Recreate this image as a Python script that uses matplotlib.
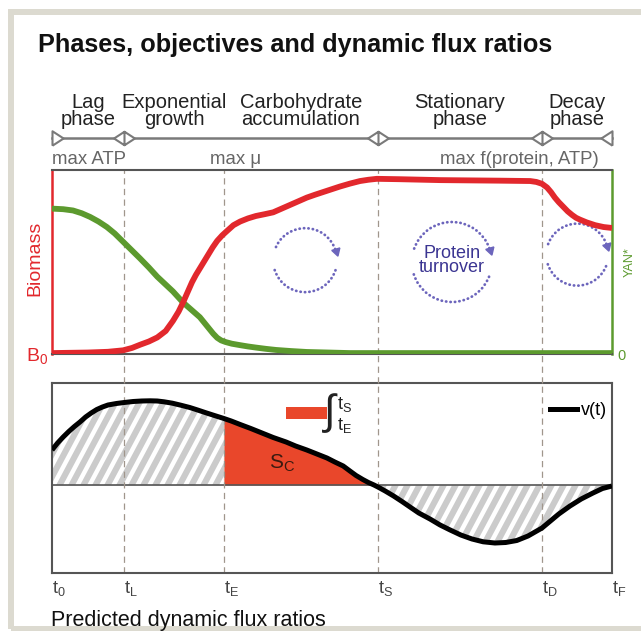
import numpy as np
import matplotlib

matplotlib.use("Agg")
import matplotlib.pyplot as plt
from matplotlib import transforms as mtransforms
from matplotlib.collections import LineCollection
from matplotlib.lines import Line2D
from matplotlib.patches import Arc, Rectangle
from matplotlib.path import Path

plt.rcParams["font.family"] = ["Liberation Sans", "DejaVu Sans"]
plt.rcParams["mathtext.fontset"] = "custom"
plt.rcParams["mathtext.rm"] = "Liberation Sans"
plt.rcParams["mathtext.it"] = "Liberation Sans:italic"

W, H = 641, 631

RED = "#e2282d"
GREEN = "#5c9a2e"
FILL_RED = "#e9472b"
HATCH_GREY = "#cbcbcb"
CYCLE_BLUE = "#6c65bc"
SPINE = "#555555"
BAR_GREY = "#7a7a7a"
DASH = "#a0968c"

# time axis runs t0 = 0 .. tF = 100
T_MARKS = [0, 12.9, 30.7, 58.2, 87.5, 100]
T_NAMES = ["0", "L", "E", "S", "D", "F"]
PHASE_NAMES = ["Lag\nphase", "Exponential\ngrowth", "Carbohydrate\naccumulation",
               "Stationary\nphase", "Decay\nphase"]
BAR_BREAKS = [12.9, 58.2, 87.5]
OBJECTIVES = ["max ATP", "max μ", "max f(protein, ATP)"]
OBJECTIVE_T = [0, 32.7, 97.7]
OBJECTIVE_HA = ["left", "center", "right"]

BIOMASS_T = [0, 6.4, 10, 12.7, 14.3, 15.7, 17.3, 18.8, 20.3, 21.6, 22.6, 23.4, 24.2, 25.0,
             25.7, 26.4, 27.2, 27.9, 28.7, 29.5, 30.4, 31.3, 32.4, 33.6, 35.0, 36.4, 38.0,
             39.5, 41.0, 42.5, 44.0, 45.5, 47.0, 48.4, 50.0, 51.4, 53.2, 55.0, 56.5, 58.0,
             62.0, 69.3, 80.0, 85.4, 86.5, 87.5, 88.4, 89.1, 89.8, 90.5, 91.3, 92.1, 92.9,
             93.6, 94.3, 95.5, 97.0, 98.5, 100]
BIOMASS = [0.005, 0.008, 0.012, 0.02, 0.033, 0.05, 0.068, 0.09, 0.125, 0.18, 0.23, 0.28,
           0.335, 0.39, 0.43, 0.465, 0.505, 0.54, 0.58, 0.615, 0.645, 0.67, 0.70, 0.72,
           0.737, 0.75, 0.76, 0.77, 0.79, 0.81, 0.83, 0.85, 0.866, 0.88, 0.896, 0.91,
           0.926, 0.94, 0.947, 0.952, 0.95, 0.945, 0.942, 0.94, 0.935, 0.925, 0.905, 0.88,
           0.85, 0.825, 0.80, 0.775, 0.755, 0.74, 0.73, 0.715, 0.70, 0.69, 0.685]

YAN_T = [0, 2, 3.75, 5.3, 6.8, 8.3, 9.8, 11.2, 12.7, 14.2, 15.7, 17.3, 18.8, 20.2, 21.6,
         22.5, 23.4, 24.9, 26.4, 27.6, 28.8, 29.5, 30.2, 31.0, 32.1, 33.6, 35.0, 36.4,
         38.2, 40.0, 42.7, 45.5, 49.4, 53.2, 100]
YAN = [0.79, 0.787, 0.78, 0.765, 0.745, 0.72, 0.69, 0.655, 0.61, 0.565, 0.52, 0.47, 0.42,
       0.38, 0.34, 0.31, 0.28, 0.24, 0.20, 0.155, 0.11, 0.088, 0.074, 0.065, 0.056, 0.048,
       0.041, 0.035, 0.028, 0.022, 0.016, 0.011, 0.008, 0.005, 0.005]

FLUX_T = [0, 1, 2, 3, 4, 5, 6, 7, 8, 9, 10, 11.5, 12.9, 14.5, 16, 17.5, 18.8, 20, 21.5,
          23, 24.6, 26, 27.5, 29, 30.7, 32, 33.6, 35.5, 37.5, 39.5, 41.8, 43.5, 45.5, 47.3,
          49.1, 50.5, 52, 53.2, 54.3, 55.5, 56.5, 57.5, 58.2, 59.5, 61, 62.5, 63.8, 65.5,
          67.5, 69.3, 71.1, 73, 75, 77, 79.1, 81, 83, 85, 87.5, 89, 90.5, 92.5, 94.5, 96.6,
          98.3, 100]
FLUX = [0.35, 0.42, 0.48, 0.535, 0.585, 0.63, 0.68, 0.72, 0.755, 0.78, 0.80, 0.815, 0.825,
        0.835, 0.84, 0.842, 0.84, 0.832, 0.818, 0.798, 0.775, 0.75, 0.722, 0.695, 0.665,
        0.64, 0.605, 0.565, 0.52, 0.475, 0.43, 0.39, 0.35, 0.31, 0.27, 0.23, 0.19, 0.14,
        0.095, 0.055, 0.025, 0.0, -0.02, -0.06, -0.11, -0.165, -0.215, -0.28, -0.34, -0.40,
        -0.45, -0.50, -0.54, -0.568, -0.58, -0.575, -0.555, -0.51, -0.43, -0.36, -0.29,
        -0.21, -0.14, -0.08, -0.035, -0.01]

# protein turnover cycles: centre (time, biomass fraction) and radius in px
CYCLE_T = [45.2, 71.4, 93.8]
CYCLE_Y = [0.51, 0.50, 0.54]
CYCLE_R = [32, 40, 31]


def fx(px):
    return px / W


def fy(py):
    return 1 - py / H


def tlabel(s):
    return r"$\mathregular{t_{%s}}$" % s


def draw_cycles(fig, ax):
    for cx, cy, r in zip(CYCLE_T, CYCLE_Y, CYCLE_R):
        tr = fig.dpi_scale_trans + mtransforms.ScaledTranslation(cx, cy, ax.transData)
        r_in = r / 100
        for th1, th2 in [(20, 162), (198, 342)]:
            ax.add_patch(Arc((0, 0), 2 * r_in, 2 * r_in, theta1=th1, theta2=th2,
                             transform=tr, color=CYCLE_BLUE, lw=2.0,
                             linestyle=(0, (0.1, 1.5)), capstyle="round"))
        a = np.radians(17)
        ax.plot([r_in * np.cos(a)], [r_in * np.sin(a)], transform=tr,
                marker=(3, 0, -163), ms=7, color=CYCLE_BLUE, clip_on=False)


def draw_top(fig, ax):
    ax.set_facecolor("none")
    ax.plot(YAN_T, YAN, color=GREEN, lw=4.2, zorder=3, solid_capstyle="butt")
    ax.plot(BIOMASS_T, BIOMASS, color=RED, lw=4.2, zorder=4, solid_capstyle="butt")
    for t in T_MARKS[1:-1]:
        ax.axvline(t, color=DASH, lw=0.9, dashes=(5, 3.5), zorder=2)

    ax.spines["left"].set_color(RED)
    ax.spines["right"].set_color(GREEN)
    for side in ["left", "right"]:
        ax.spines[side].set_linewidth(1.8)
    for side in ["top", "bottom"]:
        ax.spines[side].set_color(SPINE)
        ax.spines[side].set_linewidth(1.5)

    ax.set_xticks([])
    ax.set_yticks([0])
    ax.set_yticklabels([r"$\mathregular{B_0}$"], color=RED, fontsize=14)
    ax.tick_params(axis="y", length=0, pad=3)
    ax.set_ylabel("Biomass", color=RED, fontsize=14)
    ax.yaxis.set_label_coords(-0.015, 0.52)

    axr = ax.twinx()
    axr.set_ylim(0, 1)
    axr.set_yticks([0])
    axr.set_yticklabels(["0"], color=GREEN, fontsize=10.5)
    axr.tick_params(axis="y", length=0, pad=4)
    axr.set_ylabel("YAN*", color=GREEN, fontsize=9)
    axr.yaxis.set_label_coords(1.02, 0.5)
    for spine in axr.spines.values():
        spine.set_visible(False)

    draw_cycles(fig, ax)
    ax.text(71.4, 0.51, "Protein\nturnover", ha="center", va="center", fontsize=13,
            linespacing=0.75, color="#3b3592", zorder=5)

    ax.set_xlim(0, 100)
    ax.set_ylim(0, 1)


def draw_bottom(fig, ax):
    ax.set_facecolor("none")
    t = np.array(FLUX_T)
    v = np.array(FLUX)
    t_e, t_s = T_MARKS[2], T_MARKS[3]

    left = ax.fill_between(t, v, 0, where=t <= t_e, color=HATCH_GREY, lw=0, zorder=1)
    right = ax.fill_between(t, v, 0, where=t >= t_s, color=HATCH_GREY, lw=0, zorder=1)
    ax.fill_between(t, v, 0, where=(t >= t_e) & (t <= t_s), interpolate=True,
                    color=FILL_RED, lw=0, zorder=1)

    # white diagonal stripes over the grey areas
    ang = np.radians(62)
    segs = [[(c, 0), (c + 900 / np.tan(ang), 900)] for c in np.arange(-600, 700, 12)]
    stripes = LineCollection(segs, colors="white", linewidths=3.2,
                             transform=mtransforms.IdentityTransform(), zorder=1.5)
    ax.add_collection(stripes, autolim=False)
    clip = Path.make_compound_path(*left.get_paths(), *right.get_paths())
    stripes.set_clip_path(clip, ax.transData)

    ax.axhline(0, color=SPINE, lw=1.2, zorder=2)
    for tm in T_MARKS[1:-1]:
        ax.axvline(tm, color=DASH, lw=0.9, dashes=(5, 3.5), zorder=2)
    ax.plot(t, v, color="black", lw=3.6, zorder=4, solid_capstyle="butt")

    for spine in ax.spines.values():
        spine.set_color(SPINE)
        spine.set_linewidth(1.5)

    ax.set_yticks([])
    ax.set_xticks(T_MARKS)
    ax.set_xticklabels([tlabel(s) for s in T_NAMES], fontsize=13, color="#444444",
                       ha="left")
    shift = mtransforms.ScaledTranslation(-2 / 100, 0, fig.dpi_scale_trans)
    for lab in ax.get_xticklabels():
        lab.set_transform(lab.get_transform() + shift)
    ax.tick_params(axis="x", length=0, pad=4)

    handle = Line2D([], [], color="black", lw=3.6)
    ax.legend([handle], ["v(t)"], loc="center right", bbox_to_anchor=(0.991, 0.853),
              frameon=False, fontsize=13, handlelength=1.5, handletextpad=0.2,
              borderpad=0, borderaxespad=0)

    ax.add_patch(Rectangle((0.418, 0.81), 0.073, 0.063, transform=ax.transAxes,
                           color=FILL_RED, lw=0))
    ax.text(0.495, 0.842, "∫", transform=ax.transAxes, ha="center", va="center",
            fontsize=30, color="#222222", family=["Liberation Sans", "DejaVu Sans"])
    ax.text(0.509, 0.862, tlabel("S"), transform=ax.transAxes, ha="left",
            va="baseline", fontsize=13, color="#222222")
    ax.text(0.509, 0.752, tlabel("E"), transform=ax.transAxes, ha="left",
            va="baseline", fontsize=13, color="#222222")
    ax.text(41, 0.22, r"$\mathregular{S_C}$", ha="center", va="center", fontsize=15,
            color="#3a1a10", zorder=5)

    ax.set_xlim(0, 100)
    ax.set_ylim(-0.88, 1.02)


def draw_header(fig, ax):
    fig.text(fx(38), fy(52), "Phases, objectives and dynamic flux ratios", fontsize=18.2,
             fontweight="bold", va="baseline", color="#111111")

    bar = mtransforms.blended_transform_factory(ax.transData, fig.transFigure)
    y_bar = fy(138)
    fig.add_artist(Line2D([T_MARKS[0], T_MARKS[-1]], [y_bar, y_bar], transform=bar,
                          color=BAR_GREY, lw=1.8))
    right_tri = [(0, -0.65), (0, 0.65), (1, 0), (0, -0.65)]
    left_tri = [(0, -0.65), (0, 0.65), (-1, 0), (0, -0.65)]
    joint = Path([(-1, 0), (0, 0.65), (1, 0), (0, -0.65), (-1, 0), (0, 0.65), (0, -0.65)],
                 [Path.MOVETO, Path.LINETO, Path.LINETO, Path.LINETO, Path.CLOSEPOLY,
                  Path.MOVETO, Path.LINETO])
    style = dict(transform=bar, linestyle="none", mfc="white", mec=BAR_GREY, mew=1.5)
    fig.add_artist(Line2D([T_MARKS[0]], [y_bar], marker=right_tri, ms=16, **style))
    fig.add_artist(Line2D([T_MARKS[-1]], [y_bar], marker=left_tri, ms=16, **style))
    fig.add_artist(Line2D(BAR_BREAKS, [y_bar] * len(BAR_BREAKS), marker=joint, ms=15,
                          **style))

    for name, a, b in zip(PHASE_NAMES, T_MARKS[:-1], T_MARKS[1:]):
        fig.text((a + b) / 2, fy(125), name, transform=bar, ha="center", va="baseline",
                 fontsize=14.5, linespacing=0.87, color="#222222")

    for name, t, ha in zip(OBJECTIVES, OBJECTIVE_T, OBJECTIVE_HA):
        fig.text(t, fy(164), name, transform=bar, ha=ha, va="baseline", fontsize=13.4,
                 color="#666666")

    fig.text(fx(51), fy(626), "Predicted dynamic flux ratios", fontsize=15.5,
             va="baseline", color="#111111")

    fig.add_artist(Rectangle((fx(11), fy(628.5)), fx(680) - fx(11), fy(11.5) - fy(628.5),
                             transform=fig.transFigure, fill=False, ec="#dcdad0",
                             lw=4.3, zorder=-5))


def main():
    fig = plt.figure(figsize=(W / 100, H / 100), dpi=100)
    ax_top = fig.add_axes([fx(52), fy(354), fx(612) - fx(52), fy(170) - fy(354)])
    ax_bot = fig.add_axes([fx(52), fy(573), fx(612) - fx(52), fy(383) - fy(573)])

    draw_top(fig, ax_top)
    draw_bottom(fig, ax_bot)
    draw_header(fig, ax_top)

    # dashed phase boundaries continue through the gap between the panels
    gap = mtransforms.blended_transform_factory(ax_bot.transData, fig.transFigure)
    for t in T_MARKS[1:-1]:
        fig.add_artist(Line2D([t, t], [fy(383), fy(354)], transform=gap,
                              color=DASH, lw=0.9, dashes=(5, 3.5)))

    fig.savefig("out.png", dpi=100)
    plt.close(fig)


if __name__ == "__main__":
    main()
